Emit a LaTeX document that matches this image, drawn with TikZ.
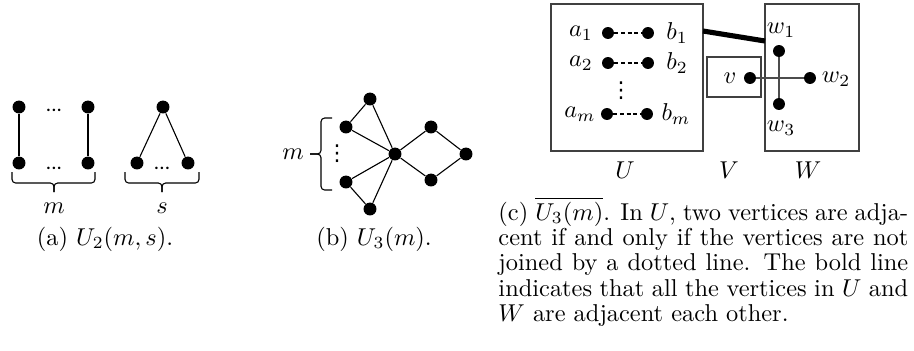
\documentclass[tikz,border=0pt]{standalone}
\usepackage{fontspec}
\newfontfamily\dejavu{DejaVu Sans}
\newcommand\mydots{\ensuremath{{\cdot}\mkern-1mu{\cdot}\mkern-1mu{\cdot}}}
\newcommand\myvdots{{\dejavu\fontsize{9}{9}\selectfont ⋮}}
\begin{document}
\begin{tikzpicture}[x=0.41pt,y=-0.41pt,
  vtx/.style={circle,fill=black,inner sep=0pt,minimum size=5.3pt},
  cvtx/.style={circle,fill=black,inner sep=0pt,minimum size=4.9pt},
  edge/.style={line width=0.45pt},
  gedge/.style={line width=0.5pt,draw=black!70},
  brc/.style={line width=0.45pt,rounded corners=1.5pt},
  box/.style={draw=black!75,line width=0.6pt},
  dline/.style={line width=0.45pt,dash pattern=on 1.6pt off 1.1pt},
  lbl/.style={inner sep=0pt}]
\useasboundingbox (0,0) rectangle (914,350);
% ---------- (a)
\node[vtx] (a1t) at (19,107) {};
\node[vtx] (a1b) at (19,163) {};
\node[vtx] (a2t) at (88,107) {};
\node[vtx] (a2b) at (88,163) {};
\draw[edge] (a1t) -- (a1b);
\draw[edge] (a2t) -- (a2b);
\node[lbl] (adt) at (54,111) {\mydots};
\node[lbl] (adb) at (54,169) {\mydots};
\node[vtx] (tt) at (163,107) {};
\node[vtx] (tl) at (137,163) {};
\node[vtx] (tr) at (188,163) {};
\draw[edge] (tl) -- (tt) -- (tr);
\node[lbl] (tdb) at (162,169) {\mydots};
\draw[brc] (12,172) |- (54,183) -- (54,192);
\draw[brc] (95,172) |- (54,183) -- (54,192);
\draw[brc] (125,172) |- (162,183) -- (162,192);
\draw[brc] (199,172) |- (162,183) -- (162,192);
\node (lm) at (54,208) {$m$};
\node (ls) at (162,208) {$s$};
\node[anchor=base,lbl] (capa) at (105,245) {(a) $U_2(m,s)$.};
% ---------- (b)
\node[vtx] (bt) at (370,99) {};
\node[vtx] (bul) at (346,127) {};
\node[vtx] (bc) at (395,154) {};
\node[vtx] (bll) at (346,182) {};
\node[vtx] (bb) at (370,209) {};
\node[vtx] (brt) at (431,127) {};
\node[vtx] (brr) at (466,154) {};
\node[vtx] (brb) at (431,180) {};
\draw[edge] (bt) -- (bul) -- (bc) -- (bt);
\draw[edge] (bc) -- (bll) -- (bb) -- (bc);
\draw[edge] (bc) -- (brt) -- (brr) -- (brb) -- (bc);
\node[lbl] (bvd) at (337,154) {\myvdots};
\draw[brc] (332,118) -| (321,154) -- (310,154);
\draw[brc] (332,190) -| (321,154) -- (310,154);
\node (bm) at (293,154) {$m$};
\node[anchor=base,lbl] (capb) at (374,245) {(b) $U_3(m)$.};
% ---------- (c)
\draw[box] (551,4) rectangle (703,151);
\draw[box] (765,4) rectangle (859,151);
\draw[box] (707,57) rectangle (761,97);
\coordinate (bU) at (703,31);
\coordinate (bW) at (765,41);
\draw[line width=2.1pt] (bU) -- (bW);
\node[cvtx] (ca1) at (608,33) {};
\node[cvtx] (cb1) at (648,33) {};
\node[cvtx] (ca2) at (608,63) {};
\node[cvtx] (cb2) at (648,63) {};
\node[cvtx] (cam) at (607,114) {};
\node[cvtx] (cbm) at (647,114) {};
\draw[dline] (ca1) -- (cb1);
\draw[dline] (ca2) -- (cb2);
\draw[dline] (cam) -- (cbm);
\node (la1) at (581,33) {$a_1$};
\node (lb1) at (677,33) {$b_1$};
\node (la2) at (581,63) {$a_2$};
\node (lb2) at (677,63) {$b_2$};
\node (lam) at (580,114) {$a_m$};
\node (lbm) at (676,114) {$b_m$};
\node[lbl] (cvd) at (621,91) {\myvdots};
\node[cvtx] (cv) at (750,78) {};
\node[cvtx] (cw1) at (779,51) {};
\node[cvtx] (cw2) at (810,78) {};
\node[cvtx] (cw3) at (779,104) {};
\draw[gedge] (cv) -- (cw2);
\draw[gedge] (cw1) -- (cw3);
\node (lv) at (730,78) {$v$};
\node (lw1) at (781,30) {$w_1$};
\node (lw2) at (836,79) {$w_2$};
\node (lw3) at (781,128) {$w_3$};
\node (lU) at (625,170) {$U$};
\node (lV) at (729,170) {$V$};
\node (lW) at (808,170) {$W$};
\node[anchor=base west,lbl] (capc) at (498,220) {\parbox[t]{168pt}{\fontsize{10}{10.4}\selectfont
(c) $\overline{U_3(m)}$. In $U$, two vertices are adja-\linebreak cent if and only if the vertices are not\linebreak joined by a dotted line. The bold line\linebreak indicates that all the vertices in $U$ and\linebreak $W$ are adjacent each other.}};
\end{tikzpicture}
\end{document}
